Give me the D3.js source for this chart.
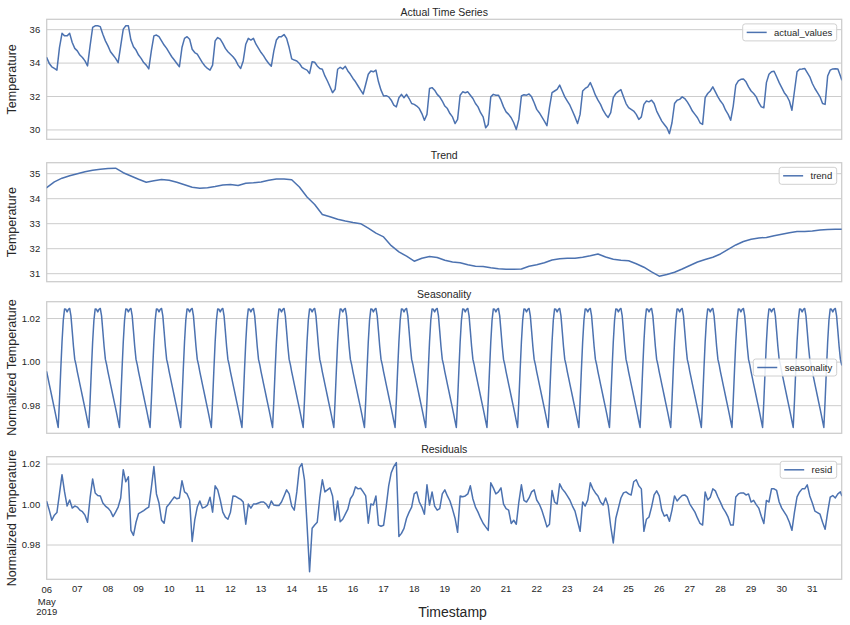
<!DOCTYPE html>
<html><head><meta charset="utf-8">
<script src="https://cdn.jsdelivr.net/npm/d3@7"></script>
<style>
html,body{margin:0;padding:0;background:#fff;}
svg{display:block;font-family:"Liberation Sans",Arial,Helvetica,sans-serif;}
</style></head><body>
<svg id="chart" width="850" height="625"></svg>
<script>
// ---- data (hourly index from 2019-05-06 00:00) ----
const startDate = Date.UTC(2019, 4, 6);
const lastHour = 623;

// actual values, every 2 hours (last value = 31 May 23:00)
const actualValues = [
 34.30,33.95,33.75,33.65,33.55,34.90,35.75,35.60,35.60,35.75,35.20,34.85,
 34.70,34.45,34.30,34.10,33.80,35.00,36.10,36.20,36.20,36.15,35.70,35.30,
 35.00,34.65,34.45,34.25,34.00,35.00,36.00,36.20,36.20,35.35,34.95,34.75,
 34.45,34.25,34.00,33.85,33.62,34.70,35.60,35.65,35.55,35.30,35.05,34.85,
 34.60,34.35,34.15,33.95,33.75,34.90,35.45,35.55,35.40,34.80,34.60,34.50,
 34.25,34.00,33.80,33.65,33.55,33.85,35.30,35.50,35.40,35.15,34.85,34.65,
 34.50,34.35,34.15,33.85,33.65,34.10,35.10,35.45,35.35,35.45,35.10,34.85,
 34.60,34.40,34.15,33.95,33.78,34.70,35.35,35.55,35.55,35.68,35.45,34.90,
 34.22,34.15,34.10,33.95,33.72,33.62,33.55,33.35,34.05,34.02,33.80,33.65,
 33.60,33.20,32.90,32.55,32.20,32.40,33.60,33.72,33.62,33.78,33.50,33.30,
 33.05,32.85,32.60,32.35,32.12,32.70,33.30,33.50,33.45,33.55,32.85,32.35,
 32.00,32.02,31.95,31.75,31.45,31.35,31.90,32.10,31.90,32.10,31.85,31.55,
 31.50,31.40,31.25,30.95,30.55,30.90,32.45,32.50,32.35,32.10,31.95,31.70,
 31.40,31.25,30.95,30.75,30.35,30.60,32.05,32.25,32.20,32.25,32.05,31.85,
 31.55,31.35,31.00,30.75,30.10,30.30,31.95,32.10,32.05,32.05,31.75,31.35,
 31.05,30.90,30.70,30.40,30.00,30.60,32.00,32.08,32.05,32.12,31.95,31.60,
 31.20,31.00,30.75,30.50,30.22,31.30,32.20,32.30,32.40,32.65,32.30,31.95,
 31.70,31.45,31.10,30.75,30.35,30.90,32.30,32.45,32.55,32.80,32.45,32.05,
 31.75,31.50,31.15,30.90,30.72,31.00,31.90,32.15,32.28,32.38,31.95,31.55,
 31.30,31.20,31.10,30.90,30.60,30.75,31.50,31.70,31.65,31.75,31.55,31.10,
 30.80,30.50,30.30,30.10,29.75,30.40,31.55,31.75,31.80,31.95,31.85,31.65,
 31.40,31.10,30.90,30.70,30.40,30.30,31.90,32.15,32.30,32.55,32.25,31.95,
 31.70,31.50,31.15,30.90,30.55,31.40,32.65,32.90,33.00,33.02,32.85,32.55,
 32.30,32.15,31.95,31.60,31.35,31.30,32.80,33.30,33.45,33.48,33.15,32.80,
 32.50,32.20,32.00,31.70,31.15,32.30,33.45,33.60,33.62,33.65,33.40,33.15,
 32.75,32.45,32.20,31.95,31.55,31.50,33.20,33.55,33.62,33.63,33.62,33.20,
 32.98
];

// trend, every 6 hours (last value = 31 May 23:00)
const trendValues = [
 34.42,34.65,34.80,34.90, 34.98,35.06,35.12,35.16, 35.19,35.20,35.02,34.89,
 34.76,34.64,34.70,34.75, 34.72,34.64,34.54,34.44, 34.40,34.42,34.47,34.53,
 34.55,34.51,34.60,34.62, 34.65,34.72,34.77,34.77, 34.74,34.45,34.05,33.75,
 33.35,33.26,33.16,33.09, 33.03,32.98,32.80,32.60, 32.45,32.10,31.85,31.68,
 31.48,31.60,31.67,31.63, 31.52,31.45,31.42,31.34, 31.28,31.27,31.22,31.18,
 31.16,31.16,31.17,31.28, 31.34,31.42,31.53,31.58, 31.60,31.60,31.64,31.70,
 31.77,31.65,31.56,31.52, 31.50,31.38,31.24,31.05, 30.88,30.95,31.04,31.17,
 31.31,31.45,31.55,31.64, 31.77,31.95,32.13,32.27, 32.36,32.41,32.43,32.50,
 32.56,32.62,32.67,32.67, 32.69,32.73,32.75,32.76,
 32.76
];

// daily seasonal profile, hours 00..23
const seasonalProfile = [
 0.9953,0.9925,0.9897,0.9869,0.9841,0.9813,0.9785,0.9757,0.9727,0.9698,0.9820,0.9960,
 1.0090,1.0190,1.0242,1.0240,1.0228,1.0240,1.0244,1.0210,1.0140,1.0068,1.0010,0.9985
];

// residuals, every 2 hours (last value = 31 May 23:00)
const residValues = [
 1.0013,0.9970,0.9920,0.9945,0.9958,1.0050,1.0145,1.0060,0.9990,1.0020,0.9980,0.9990,
 0.9985,0.9970,0.9962,0.9945,0.9910,1.0030,1.0124,1.0055,1.0042,1.0040,1.0005,0.9990,
 0.9980,0.9965,0.9938,0.9960,0.9985,1.0030,1.0170,1.0110,1.0135,0.9870,0.9845,0.9910,
 0.9953,0.9960,0.9968,0.9977,0.9985,1.0080,1.0185,1.0050,1.0005,0.9920,0.9905,0.9985,
 1.0000,1.0018,1.0035,1.0026,1.0030,1.0115,1.0060,1.0050,1.0020,0.9815,0.9920,0.9985,
 1.0015,0.9980,0.9985,0.9995,1.0034,0.9960,1.0090,1.0070,1.0020,0.9960,0.9935,0.9925,
 0.9960,1.0040,1.0038,1.0030,1.0023,1.0010,0.9900,1.0000,0.9980,1.0000,1.0000,1.0005,
 1.0010,1.0010,1.0000,0.9980,1.0015,0.9995,0.9993,0.9993,1.0010,1.0040,1.0070,1.0050,
 0.9990,0.9970,1.0060,1.0180,1.0200,1.0120,0.9900,0.9665,0.9880,0.9896,0.9910,1.0030,
 1.0120,1.0060,1.0070,1.0080,1.0040,0.9920,1.0015,0.9912,0.9925,0.9950,0.9975,1.0026,
 1.0045,1.0085,1.0075,1.0078,1.0060,1.0040,0.9905,1.0000,0.9995,1.0040,0.9896,0.9890,
 0.9895,0.9985,1.0090,1.0155,1.0185,1.0205,0.9840,0.9855,0.9880,0.9930,0.9960,0.9985,
 1.0050,1.0060,1.0010,0.9985,0.9950,1.0095,0.9995,1.0060,0.9990,0.9970,0.9977,1.0050,
 1.0070,1.0040,1.0015,0.9975,0.9930,0.9860,1.0040,1.0036,1.0040,1.0050,1.0090,1.0025,
 0.9985,0.9960,0.9930,0.9905,0.9887,0.9870,1.0105,1.0080,1.0050,1.0060,1.0080,1.0000,
 0.9977,0.9970,0.9904,0.9920,0.9900,1.0010,1.0095,1.0018,1.0010,1.0030,1.0060,1.0070,
 1.0020,1.0000,0.9970,0.9930,0.9887,0.9900,1.0067,1.0010,1.0000,1.0100,1.0075,1.0060,
 1.0040,1.0020,0.9990,0.9965,0.9915,0.9865,1.0010,0.9990,1.0020,1.0105,1.0075,1.0055,
 1.0040,1.0010,0.9995,1.0030,0.9993,0.9890,0.9808,0.9930,0.9980,1.0030,1.0055,1.0060,
 1.0050,1.0045,1.0110,1.0120,1.0090,1.0075,0.9865,0.9925,0.9936,0.9985,1.0045,1.0065,
 1.0040,0.9970,0.9940,0.9948,0.9915,0.9970,1.0040,1.0015,1.0030,1.0042,1.0045,1.0034,
 1.0000,0.9980,0.9960,0.9930,0.9904,0.9896,1.0060,1.0020,1.0034,1.0075,1.0065,1.0035,
 1.0008,0.9980,0.9960,0.9935,0.9896,0.9896,1.0035,1.0050,1.0055,1.0055,1.0045,1.0050,
 1.0010,1.0018,0.9997,0.9980,0.9940,0.9904,1.0018,1.0010,1.0075,1.0075,1.0067,1.0010,
 0.9980,0.9960,0.9940,0.9910,0.9870,0.9960,1.0035,1.0060,1.0075,1.0075,1.0095,1.0040,
 1.0005,0.9965,0.9958,0.9950,0.9910,0.9875,0.9960,1.0034,1.0042,1.0030,1.0050,1.0060,
 1.0042
];

const panelTitles = ["Actual Time Series", "Trend", "Seasonality", "Residuals"];
const yLabels = ["Temperature", "Temperature", "Normalized Temperature", "Normalized Temperature"];
const legendLabels = ["actual_values", "trend", "seasonality", "resid"];
const yDomains = [[29.41, 36.59], [30.66, 35.42], [0.9671, 1.0275], [0.9628, 1.0234]];
const yTicks = [[30, 32, 34, 36], [31, 32, 33, 34, 35], [0.98, 1.00, 1.02], [0.98, 1.00, 1.02]];
const yTickFormats = ["d", "d", ".2f", ".2f"];
const xLabel = "Timestamp";
const monthLabel = "May";
const yearLabel = "2019";

// ---- build series ----
const HOUR = 3600e3;
const toSeries = (vals, step) => vals.map((v, i) => ({ t: new Date(startDate + Math.min(i * step, lastHour) * HOUR), v }));
const seasonalValues = d3.range(lastHour + 1).map(h => seasonalProfile[h % 24]);
const allSeries = [
  toSeries(actualValues, 2),
  toSeries(trendValues, 6),
  toSeries(seasonalValues, 1),
  toSeries(residValues, 2)
];

// ---- layout ----
const svg = d3.select("#chart");
const LEFT = 46.7, RIGHT = 841.7;
const panels = [[19.3, 139.3], [162.7, 281.7], [301.7, 433.3], [456.7, 579.3]];
const TEXT = "#262626", GRID = "#cccccc", LINE = "#4c72b0";

const x = d3.scaleUtc()
  .domain([new Date(startDate), new Date(startDate + lastHour * HOUR)])
  .range([LEFT, RIGHT]);

panels.forEach(([top, bottom], k) => {
  const y = d3.scaleLinear().domain(yDomains[k]).range([bottom, top]);
  const g = svg.append("g");

  // clip
  svg.append("clipPath").attr("id", "clip" + k)
    .append("rect").attr("x", LEFT).attr("y", top).attr("width", RIGHT - LEFT).attr("height", bottom - top);

  // y axis (grid + labels)
  const yAxis = d3.axisLeft(y).tickValues(yTicks[k]).tickSize(-(RIGHT - LEFT)).tickPadding(6.5)
    .tickFormat(d3.format(yTickFormats[k]));
  const ya = g.append("g").attr("transform", `translate(${LEFT},0)`).call(yAxis);
  ya.select(".domain").remove();
  ya.selectAll(".tick line").attr("stroke", GRID).attr("stroke-width", 1);
  ya.selectAll(".tick text").attr("fill", TEXT).style("font-size", "9.5px")
    .style("font-family", '"Liberation Sans",Arial,sans-serif');

  // frame
  g.append("rect").attr("x", LEFT).attr("y", top).attr("width", RIGHT - LEFT).attr("height", bottom - top)
    .attr("fill", "none").attr("stroke", GRID).attr("stroke-width", 1.25);

  // line
  const line = d3.line().x(d => x(d.t)).y(d => y(d.v));
  g.append("path").datum(allSeries[k]).attr("clip-path", `url(#clip${k})`)
    .attr("d", line).attr("fill", "none").attr("stroke", LINE)
    .attr("stroke-width", 1.5).attr("stroke-linejoin", "round").attr("stroke-linecap", "round");

  // title
  g.append("text").attr("x", (LEFT + RIGHT) / 2).attr("y", top - 3.6)
    .attr("text-anchor", "middle").attr("fill", TEXT).style("font-size", "10.5px").text(panelTitles[k]);

  // y label
  g.append("text").attr("transform", `translate(16.3,${(top + bottom) / 2}) rotate(-90)`)
    .attr("text-anchor", "middle").attr("fill", TEXT).style("font-size", "12.5px").text(yLabels[k]);

  // legend
  const lg = g.append("g");
  const txt = lg.append("text").attr("fill", TEXT).style("font-size", "9.5px").text(legendLabels[k]);
  const tw = txt.node().getComputedTextLength();
  const bw = 4 + 20 + 7.4 + tw + 4.5, bh = 17;
  const bx = RIGHT - 5 - bw;
  const by = (k === 2) ? (top + bottom) / 2 - bh / 2 : top + 4.6;
  lg.insert("rect", "text").attr("x", bx).attr("y", by).attr("width", bw).attr("height", bh)
    .attr("rx", 2.5).attr("fill", "#fff").attr("fill-opacity", 0.85)
    .attr("stroke", "#d0d0d0").attr("stroke-width", 1);
  lg.append("line").attr("x1", bx + 4).attr("x2", bx + 24).attr("y1", by + bh / 2).attr("y2", by + bh / 2)
    .attr("stroke", LINE).attr("stroke-width", 1.5);
  txt.attr("x", bx + 31.4).attr("y", by + bh / 2 + 3.4);

  // x tick labels on bottom panel
  if (k === 3) {
    const days = d3.utcDay.range(new Date(startDate), new Date(startDate + (lastHour + 1) * HOUR));
    const xa = g.append("g");
    days.forEach((d, i) => {
      xa.append("text").attr("x", x(d)).attr("y", i === 0 ? 593.3 : 592.3)
        .attr("text-anchor", "middle").attr("fill", TEXT).style("font-size", "9.5px")
        .text(d3.utcFormat("%d")(d));
    });
    xa.append("text").attr("x", x(days[0])).attr("y", 604.6).attr("text-anchor", "middle")
      .attr("fill", TEXT).style("font-size", "9.5px").text(monthLabel);
    xa.append("text").attr("x", x(days[0])).attr("y", 615.4).attr("text-anchor", "middle")
      .attr("fill", TEXT).style("font-size", "9.5px").text(yearLabel);
    g.append("text").attr("x", 452.5).attr("y", 616.5).attr("text-anchor", "middle")
      .attr("fill", TEXT).style("font-size", "14px").text(xLabel);
  }
});
</script>
</body></html>
